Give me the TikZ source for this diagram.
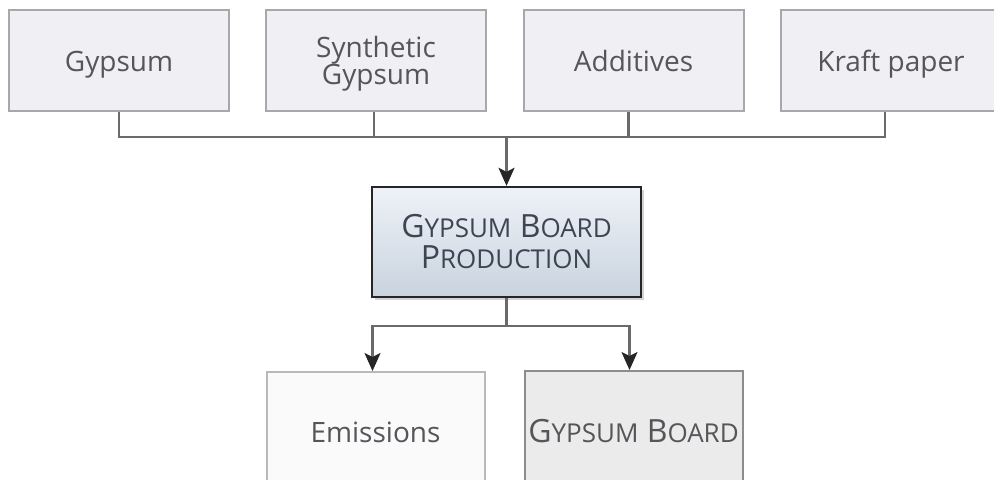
\documentclass[tikz,border=0pt]{standalone}
\usepackage{fontspec}
\setmainfont{Open Sans}
\usetikzlibrary{arrows.meta,shadows}

\definecolor{inbox}{HTML}{F0F0F4}
\definecolor{inline}{HTML}{A8A8AC}
\definecolor{wire}{HTML}{6A6A6A}
\definecolor{txtgray}{HTML}{55555A}
\definecolor{prodtop}{HTML}{EEF2F8}
\definecolor{prodbot}{HTML}{C9D3DE}
\definecolor{prodtxt}{HTML}{3E4552}

% fake small capitals: first letter big, rest small
\newcommand{\smcap}[2]{#1{\fontsize{13}{15}\selectfont #2}}

\tikzset{
  inputbox/.style={draw=inline,line width=1pt,fill=inbox,text=txtgray,
    minimum width=110pt,minimum height=50.5pt,align=center,
    font=\fontsize{14}{16}\selectfont},
  oneline/.style={text height=11pt,text depth=0pt},
  prodbox/.style={draw=black!85,line width=1.2pt,top color=prodtop,
    bottom color=prodbot,text=prodtxt,minimum width=134.5pt,
    minimum height=55pt,align=center,font=\fontsize{16}{15.5}\selectfont,
    drop shadow={shadow xshift=1.5pt,shadow yshift=-1.5pt,opacity=.35}},
  outbox/.style={draw=inline!80,line width=1pt,fill=black!2,text=txtgray,
    minimum width=109pt,minimum height=60pt,align=center,
    font=\fontsize{14}{16}\selectfont},
  wire/.style={draw=wire,line width=1.1pt},
  feed/.style={wire,-{Stealth[length=9pt,width=8pt,inset=2pt,
    color=black!85,fill=black!85]}}
}

\begin{document}
\begin{tikzpicture}[x=0.5pt,y=-0.5pt]
  \clip (0,0) rectangle (994,479) ;
  \useasboundingbox (0,0) rectangle (994,479) ;
  % inputs
  \node[inputbox,oneline] (gyp) at (119,60) {Gypsum} ;
  \node[inputbox,text depth=0pt] (syn) at (376,60) {Synthetic\\[-2.5pt]Gypsum} ;
  \node[inputbox,oneline] (add) at (633.5,60) {Additives} ;
  \node[inputbox,oneline] (kraft) at (891,60) {Kraft paper} ;
  % process
  \node[prodbox] (prod) at (506.5,242) {\smcap{G}{YPSUM} \smcap{B}{OARD}\\
    \smcap{P}{RODUCTION}} ;
  % outputs
  \node[outbox] (emis) at (375.5,432) {Emissions} ;
  \node[outbox,fill=black!8,draw=black!45,inner xsep=0pt,
    font=\fontsize{16}{18}\selectfont]
    (board) at (633.5,431) {\smcap{G}{YPSUM} \smcap{B}{OARD}} ;
  % bus lines
  \coordinate (busin) at (506.5,137) ;
  \coordinate (busout) at (506.5,326) ;
  \draw[wire] (gyp.south) |- (busin) ;
  \draw[wire] ([xshift=-1pt]syn.south) |- (busin) ;
  \draw[wire] ([xshift=-2.5pt]add.south) |- (busin) ;
  \draw[wire] ([xshift=-3pt]kraft.south) |- (busin) ;
  \draw[feed] (busin) -- (prod.north) ;
  \draw[wire] (prod.south) -- (busout) ;
  \draw[feed] (busout) -| ([xshift=-1.5pt]emis.north) ;
  \draw[feed] (busout) -| ([xshift=-2pt]board.north) ;
\end{tikzpicture}
\end{document}
